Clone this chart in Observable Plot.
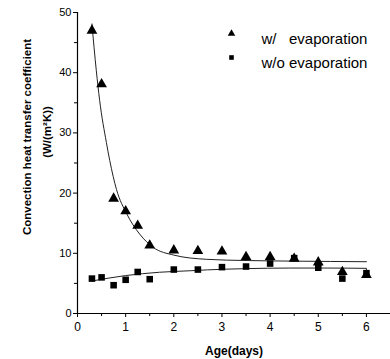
<!DOCTYPE html>
<html>
<head>
<meta charset="utf-8">
<script src="https://cdn.jsdelivr.net/npm/d3@7"></script>
<script src="https://cdn.jsdelivr.net/npm/@observablehq/plot@0.6"></script>
<style>
  html, body { margin: 0; padding: 0; background: #fff; }
  #chart svg { display: block; }
</style>
</head>
<body>
<div id="chart"></div>
<script>
// Measured ages (days)
const ages = [0.3, 0.5, 0.75, 1.0, 1.25, 1.5, 2, 2.5, 3, 3.5, 4, 4.5, 5, 5.5, 6];
// Convection heat transfer coefficient, W/(m²K)
const withEvap = [47.0, 38.1, 19.1, 17.0, 14.6, 11.3, 10.5, 10.4, 10.3, 9.4, 9.4, 9.1, 8.5, 6.9, 6.4];
const withoutEvap = [5.8, 6.0, 4.7, 5.6, 6.9, 5.7, 7.3, 7.3, 7.7, 7.8, 8.3, 9.2, 7.6, 5.8, 6.7];

// Fitted trend curves (exponential fits), sampled along age
const fitWithX = [0.3, 0.39, 0.46, 0.6, 0.67, 0.81, 1.02, 1.29, 1.57, 2.0, 2.68, 3.5, 4.5, 6.0];
const fitWithY = [48.1, 40.4, 35.4, 28.4, 25.4, 20.6, 16.6, 13.2, 11.0, 9.7, 9.0, 8.8, 8.7, 8.6];
const fitWithoutX = [0.3, 1.0, 1.7, 2.34, 2.7, 3.5, 4.4, 5.2, 6.0];
const fitWithoutY = [5.4, 6.3, 6.85, 7.1, 7.25, 7.45, 7.55, 7.55, 7.5];

const xTicks = [0, 1, 2, 3, 4, 5, 6];
const xMinor = [0.5, 1.5, 2.5, 3.5, 4.5, 5.5];
const yTicks = [0, 10, 20, 30, 40, 50];
const yMinor = [5, 15, 25, 35, 45];

const seriesNames = ["w/   evaporation", "w/o evaporation"];

const pts = (xs, ys) => xs.map((x, i) => ({x, y: ys[i]}));
const evapPts = pts(ages, withEvap);
const noEvapPts = pts(ages, withoutEvap);
const fitA = pts(fitWithX, fitWithY);
const fitB = pts(fitWithoutX, fitWithoutY);

const font = "'Liberation Sans', Arial, sans-serif";

const chart = Plot.plot({
  width: 390,
  height: 359,
  marginLeft: 77,
  marginRight: 0,
  marginTop: 12,
  marginBottom: 46,
  style: {fontFamily: font, fontSize: "11px", color: "#000", background: "#fff"},
  x: {domain: [0, 6.5]},
  y: {domain: [0, 50]},
  marks: [
    Plot.axisX({ticks: xTicks, tickFormat: d => String(d), tickSize: 4, tickPadding: 5, fontSize: 12, label: null}),
    Plot.axisX({ticks: xMinor, tickSize: 3, text: null, label: null}),
    Plot.axisY({ticks: yTicks, tickFormat: d => String(d), tickSize: 4, tickPadding: 2, fontSize: 11, label: null}),
    Plot.axisY({ticks: yMinor, tickSize: 3, text: null, label: null}),
    Plot.ruleY([0], {stroke: "#000", strokeWidth: 1.2}),
    Plot.ruleX([0], {y1: 0, y2: 50, stroke: "#000", strokeWidth: 1.2}),
    Plot.line(fitA, {x: "x", y: "y", curve: "monotone-x", stroke: "#222", strokeWidth: 1}),
    Plot.line(fitB, {x: "x", y: "y", curve: "monotone-x", stroke: "#222", strokeWidth: 1}),
    Plot.dot(evapPts, {x: "x", y: "y", symbol: "triangle", r: 4, fill: "#000", stroke: "none"}),
    Plot.dot(noEvapPts, {x: "x", y: "y", symbol: "square", r: 3.7, fill: "#000", stroke: "none"}),
    // legend
    Plot.dot([seriesNames[0]], {frameAnchor: "top-left", dx: 154, dy: 21, symbol: "triangle", r: 2.8, fill: "#000", stroke: "none"}),
    Plot.dot([seriesNames[1]], {frameAnchor: "top-left", dx: 154, dy: 45, symbol: "square", r: 2.6, fill: "#000", stroke: "none"}),
    Plot.text([seriesNames[0]], {text: d => d, frameAnchor: "top-left", dx: 184, dy: 21, textAnchor: "start", fontSize: 15, letterSpacing: -0.5}),
    Plot.text([seriesNames[1]], {text: d => d, frameAnchor: "top-left", dx: 184, dy: 45, textAnchor: "start", fontSize: 15, letterSpacing: -0.5}),
    // axis titles
    Plot.text(["Age(days)"], {text: d => d, frameAnchor: "bottom", dy: 41, fontSize: 12, fontWeight: "bold", letterSpacing: -1}),
    Plot.text(["Convection heat transfer coefficient"], {text: d => d, frameAnchor: "left", textAnchor: "middle", dx: -50, dy: -26, rotate: -90, fontSize: 11.5, fontWeight: "bold"}),
    Plot.text(["(W/(m²K))"], {text: d => d, frameAnchor: "left", textAnchor: "middle", dx: -30, dy: -31, rotate: -90, fontSize: 11.5, fontWeight: "bold"})
  ]
});

document.getElementById("chart").appendChild(chart);
</script>
</body>
</html>
